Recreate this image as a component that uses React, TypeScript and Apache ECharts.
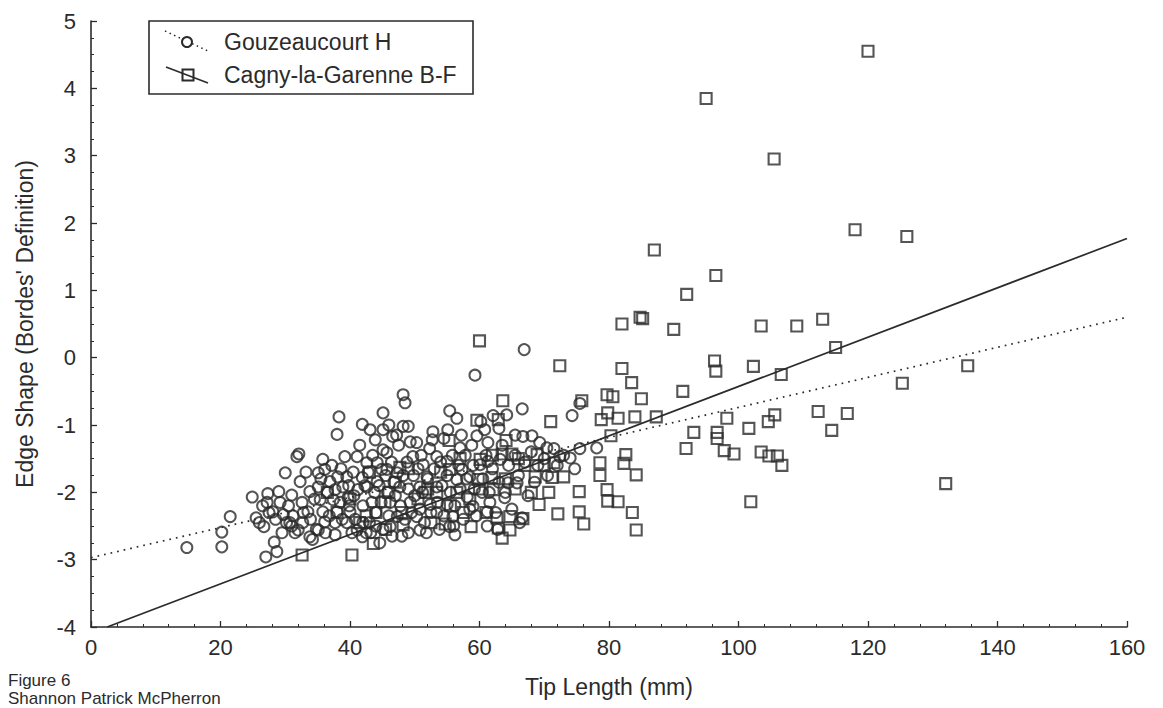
import React, { useEffect, useRef } from "react";
import * as echarts from "echarts";

const FONT = "'Liberation Sans', Arial, Helvetica, sans-serif";
const INK = "#2b2b2b";

const xTickLabels = ["0", "20", "40", "60", "80", "100", "120", "140", "160"];
const yTickLabels = ["-4", "-3", "-2", "-1", "0", "1", "2", "3", "4", "5"];

const seriesNames = ["Gouzeaucourt H", "Cagny-la-Garenne B-F"];

// Gouzeaucourt H (circles): [tip length mm, edge shape]
const gouzeaucourt: number[][] = [
  [14.8, -2.82], [20.2, -2.81], [20.2, -2.59], [21.5, -2.36], [24.9, -2.07], [25.5, -2.38],
  [26.7, -2.51], [27.0, -2.96], [28.3, -2.74], [28.7, -2.88], [27.3, -2.02], [29.0, -1.99],
  [30.0, -1.71], [27.2, -2.15], [28.1, -2.29], [29.2, -2.15], [29.7, -2.33], [30.7, -2.45],
  [31.0, -2.04], [31.8, -1.47], [32.1, -1.43], [32.3, -1.84], [32.6, -2.15], [32.0, -2.56],
  [32.7, -2.45], [33.5, -2.29], [33.8, -1.99], [33.8, -2.66], [35.1, -1.71], [35.8, -1.51],
  [36.1, -1.66], [35.1, -1.92], [35.4, -2.11], [35.8, -2.29], [36.1, -2.44], [35.1, -2.56],
  [38.0, -1.14], [38.3, -0.88], [36.9, -1.84], [37.7, -1.96], [38.1, -1.77], [37.4, -2.11],
  [38.0, -2.29], [37.7, -2.45], [37.7, -2.63], [39.2, -1.47], [39.5, -1.77], [39.7, -2.08],
  [40.0, -2.29], [39.5, -2.45], [40.3, -2.6], [41.1, -1.47], [41.9, -0.99], [43.1, -1.07],
  [43.9, -1.22], [45.1, -0.82], [45.1, -1.07], [42.6, -1.56], [41.9, -1.78], [41.2, -1.96],
  [42.6, -1.92], [43.4, -2.15], [44.2, -1.84], [44.2, -1.56], [45.1, -1.37], [44.9, -1.66],
  [45.1, -2.55], [41.1, -2.56], [41.9, -2.66], [42.0, -2.45], [38.9, -1.92], [38.5, -2.15],
  [66.9, 0.12], [59.3, -0.26], [48.2, -0.55], [48.5, -0.67], [55.4, -0.79], [56.5, -0.9],
  [66.6, -0.76], [62.1, -0.86], [64.2, -0.85], [60.8, -1.07], [59.6, -1.16], [61.3, -1.26],
  [74.3, -0.86], [75.5, -0.68], [66.7, -1.17], [68.1, -1.16], [69.3, -1.26], [70.4, -1.34],
  [75.5, -1.35], [78.1, -1.34], [74.0, -1.49], [74.7, -1.65], [72.4, -1.47], [65.8, -1.86],
  [64.4, -1.86], [66.6, -2.38], [52.8, -1.1], [55.1, -1.07], [52.7, -1.22], [48.2, -1.02],
  [49.0, -1.02], [46.6, -1.17], [50.3, -1.26], [45.7, -1.41], [49.7, -1.47], [51.3, -1.59],
  [53.4, -1.47], [57.0, -1.34], [55.0, -1.54], [57.3, -1.66], [56.5, -1.81], [60.1, -1.59],
  [61.3, -1.54], [58.5, -1.77], [63.2, -1.51], [58.1, -2.07], [60.4, -2.0], [61.6, -2.15],
  [63.9, -2.08], [61.2, -2.29], [59.0, -2.21], [47.7, -1.92], [50.8, -1.92], [53.4, -1.92],
  [55.0, -2.18], [52.4, -2.18], [49.3, -2.15], [46.2, -2.15], [47.3, -2.36], [50.3, -2.36],
  [53.4, -2.3], [55.9, -2.36], [46.2, -2.51], [49.0, -2.6], [50.8, -2.56], [44.6, -2.75],
  [55.4, -2.51], [56.2, -2.63], [45.7, -1.66], [47.3, -1.71], [51.9, -1.77],
  [30.5, -2.2], [31.2, -2.35], [31.5, -2.6], [32.8, -2.3], [33.2, -1.7], [33.9, -2.4],
  [34.5, -2.1], [34.8, -2.55], [35.5, -1.8], [36.5, -2.0], [36.8, -2.35], [37.2, -1.6],
  [38.6, -1.65], [38.8, -2.4], [39.8, -1.9], [39.9, -2.2], [40.5, -1.7], [40.6, -2.05],
  [40.8, -2.4], [36.2, -2.6], [34.2, -2.7], [31.0, -2.5], [30.2, -2.45], [29.5, -2.6],
  [28.5, -2.4], [27.5, -2.3], [26.5, -2.2], [26.0, -2.45],
  [41.5, -1.3], [42.0, -2.2], [42.3, -1.9], [42.8, -1.7], [43.0, -2.45], [43.5, -1.45],
  [43.8, -2.0], [44.0, -2.3], [44.5, -1.9], [44.8, -2.15], [45.5, -1.75], [45.8, -2.0],
  [46.0, -2.35], [46.4, -1.55], [46.8, -1.85], [47.0, -2.05], [47.5, -1.3], [47.8, -2.2],
  [48.2, -1.75], [48.5, -2.4], [48.8, -1.55], [49.0, -1.95], [49.5, -2.3], [49.8, -1.75],
  [50.0, -2.05], [50.5, -1.65], [50.8, -2.25], [44.0, -2.5], [46.5, -2.65], [48.0, -2.65],
  [47.2, -1.15], [46.0, -1.0], [49.3, -1.25], [43.2, -2.6], [42.5, -2.6],
  [51.0, -1.45], [51.2, -2.0], [51.5, -2.45], [52.0, -1.8], [52.3, -1.35], [52.5, -2.3],
  [53.0, -1.65], [53.5, -2.15], [54.0, -1.55], [54.2, -1.9], [54.5, -2.35], [55.0, -1.75],
  [55.5, -2.0], [55.8, -1.45], [56.2, -2.2], [56.8, -1.6], [57.0, -1.95], [57.5, -2.4],
  [57.8, -1.45], [58.0, -1.8], [58.5, -2.25], [59.0, -1.6], [59.2, -1.95], [59.5, -2.35],
  [53.8, -2.55], [51.8, -2.6], [56.0, -2.5], [58.8, -1.3], [54.5, -1.2], [57.2, -1.15],
  [60.5, -1.8], [61.0, -1.45], [61.5, -2.0], [62.0, -1.65], [62.5, -2.3], [63.0, -1.85],
  [63.5, -1.3], [64.0, -2.0], [64.5, -1.6], [65.0, -2.25], [65.5, -1.45], [66.0, -1.75],
  [67.0, -1.55], [67.5, -2.05], [68.0, -1.4], [68.5, -1.85], [69.0, -1.6], [70.0, -1.5],
  [70.5, -1.75], [71.5, -1.35], [72.0, -1.6], [73.0, -1.45], [61.2, -2.5], [62.8, -2.55],
  [60.2, -0.95], [63.0, -1.05], [65.5, -1.15], [66.2, -2.45],
];

// Cagny-la-Garenne B-F (squares)
const cagny: number[][] = [
  [120, 4.55], [95, 3.85], [105.5, 2.95], [118, 1.9], [126, 1.8], [96.5, 1.22], [92, 0.94],
  [90, 0.42], [103.5, 0.47], [109, 0.47], [113, 0.57], [87, 1.6], [82, 0.5], [84.8, 0.6],
  [85.2, 0.58], [115, 0.15], [96.3, -0.05], [96.5, -0.2], [102.3, -0.13], [106.6, -0.25],
  [91.4, -0.5], [135.4, -0.12], [125.3, -0.38], [98.2, -0.9], [93.1, -1.11], [96.7, -1.11],
  [96.7, -1.2], [91.9, -1.35], [97.8, -1.38], [99.3, -1.43], [101.6, -1.05], [104.6, -0.95],
  [105.6, -0.85], [103.5, -1.4], [104.7, -1.46], [106.0, -1.46], [106.7, -1.6], [112.3, -0.8],
  [116.8, -0.83], [114.4, -1.08], [101.9, -2.14], [132, -1.87],
  [60, 0.25], [72.4, -0.12], [82, -0.16], [83.5, -0.37], [85, -0.61], [79.7, -0.55],
  [80.6, -0.58], [75.8, -0.64], [63.6, -0.64], [84, -0.88], [87.3, -0.88], [79.8, -0.82],
  [78.8, -0.92], [81.4, -0.9], [71, -0.95], [59.6, -0.93], [62.9, -0.92], [80.3, -1.16],
  [55.3, -1.23], [64.1, -1.23], [68.9, -1.44], [63.5, -1.43], [65, -1.43], [71.5, -1.56],
  [78.6, -1.56], [82.6, -1.44], [82.3, -1.57], [84.2, -1.74], [78.6, -1.75], [73, -1.77],
  [71.2, -1.78], [68.6, -1.77], [75.4, -1.99], [70.7, -2.0], [79.7, -1.96], [79.8, -2.13],
  [81.4, -2.14], [75.4, -2.29], [72.1, -2.32], [69.2, -2.18], [76.1, -2.47], [83.6, -2.3],
  [84.2, -2.56], [66.7, -2.39], [64.7, -2.36], [64.7, -2.56], [63.5, -2.68], [62.9, -2.53],
  [62.7, -2.38], [58.7, -2.51], [54.7, -2.47], [57.5, -2.3], [53.4, -2.0], [51.6, -2.0],
  [47.7, -1.63], [48.2, -2.48], [55.4, -1.66], [59.8, -1.81], [62.1, -1.96], [60.1, -1.51],
  [61.9, -1.78],
  [32.6, -2.93], [40.3, -2.93], [43.6, -2.76], [42.5, -2.35], [45.4, -2.14],
  [40, -2.1], [41.5, -2.45], [43, -1.7], [44, -2.3], [46, -2.0], [47, -1.85], [48, -2.3],
  [49, -1.65], [50.5, -2.1], [52, -1.95], [52.5, -2.45], [54, -1.7], [55.5, -2.2], [56.5, -2.0],
  [57, -1.5], [58.5, -2.1], [60, -1.95], [61, -2.3], [45.5, -2.55], [38, -2.3], [36.5, -2.0],
  [62, -1.45], [64, -1.8], [65.5, -1.95], [67, -1.6], [68, -2.0], [66, -1.5], [70, -1.6],
];

// Regression lines (end points)
const gouzeaucourtFit: number[][] = [[0, -2.97], [160, 0.6]];
const cagnyFit: number[][] = [[2.5, -4], [160, 1.77]];

export default function App() {
  const ref = useRef<HTMLDivElement>(null);

  useEffect(() => {
    if (!ref.current) return;
    const chart = echarts.init(ref.current, null, { renderer: "svg" });

    const axisCommon = {
      type: "value" as const,
      axisLine: { show: true, onZero: false, lineStyle: { color: INK, width: 1.6 } },
      axisTick: { show: true, inside: true, length: 6, lineStyle: { color: INK, width: 1.3 } },
      minorTick: { show: true, length: 3, lineStyle: { color: INK, width: 1 } },
      splitLine: { show: false },
      minorSplitLine: { show: false },
      nameLocation: "middle" as const,
      nameTextStyle: { color: INK, fontSize: 23, fontFamily: FONT },
    };

    const option: any = {
      animation: false,
      backgroundColor: "#ffffff",
      grid: { left: 91, right: 36, top: 21, bottom: 81, containLabel: false },
      xAxis: {
        ...axisCommon,
        min: 0,
        max: 160,
        interval: 20,
        minorTick: { ...axisCommon.minorTick, splitNumber: 5 },
        axisLabel: {
          color: INK, fontSize: 22, fontFamily: FONT, margin: 9,
          formatter: (v: number) => xTickLabels[Math.round(v / 20)] ?? String(v),
        },
        name: "Tip Length (mm)",
        nameGap: 48,
      },
      yAxis: {
        ...axisCommon,
        min: -4,
        max: 5,
        interval: 1,
        minorTick: { ...axisCommon.minorTick, splitNumber: 4 },
        axisLabel: {
          color: INK, fontSize: 22, fontFamily: FONT, margin: 15,
          formatter: (v: number) => yTickLabels[Math.round(v + 4)] ?? String(v),
        },
        name: "Edge Shape (Bordes' Definition)",
        nameGap: 55,
      },
      series: [
        {
          name: seriesNames[0],
          type: "scatter",
          symbol: "circle",
          symbolSize: 11,
          data: gouzeaucourt,
          itemStyle: { color: "rgba(255,255,255,0)", borderColor: INK, borderWidth: 2 },
          z: 2,
        },
        {
          name: seriesNames[1],
          type: "scatter",
          symbol: "rect",
          symbolSize: 11,
          data: cagny,
          itemStyle: { color: "rgba(255,255,255,0)", borderColor: INK, borderWidth: 2.1 },
          z: 2,
        },
        {
          name: seriesNames[0] + " fit",
          type: "line",
          data: gouzeaucourtFit,
          showSymbol: false,
          symbol: "none",
          lineStyle: { color: INK, width: 1.7, type: [1.7, 5] },
          z: 3,
        },
        {
          name: seriesNames[1] + " fit",
          type: "line",
          data: cagnyFit,
          showSymbol: false,
          symbol: "none",
          lineStyle: { color: INK, width: 1.7 },
          z: 3,
        },
      ],
      graphic: [
        {
          type: "rect",
          shape: { x: 149, y: 21, width: 324, height: 73 },
          style: { fill: "#fff", stroke: INK, lineWidth: 1.6 },
          z: 10,
        },
        {
          type: "line",
          shape: { x1: 165, y1: 31, x2: 208, y2: 51 },
          style: { stroke: INK, lineWidth: 1.5, lineDash: [1.5, 3.5] },
          z: 11,
        },
        {
          type: "circle",
          shape: { cx: 187, cy: 42, r: 5 },
          style: { fill: "#fff", stroke: INK, lineWidth: 2 },
          z: 12,
        },
        {
          type: "line",
          shape: { x1: 166, y1: 67, x2: 208, y2: 83 },
          style: { stroke: INK, lineWidth: 1.7 },
          z: 11,
        },
        {
          type: "rect",
          shape: { x: 182.5, y: 69.5, width: 11, height: 11 },
          style: { fill: "rgba(255,255,255,0)", stroke: INK, lineWidth: 2 },
          z: 12,
        },
        {
          type: "text",
          x: 224, y: 42,
          style: { text: seriesNames[0], fill: INK, fontSize: 23, fontFamily: FONT, verticalAlign: "middle", align: "left" },
          z: 12,
        },
        {
          type: "text",
          x: 224, y: 75,
          style: { text: seriesNames[1], fill: INK, fontSize: 23, fontFamily: FONT, verticalAlign: "middle", align: "left" },
          z: 12,
        },
        {
          type: "text",
          x: 8, y: 680,
          style: { text: "Figure 6", fill: INK, fontSize: 17, fontFamily: FONT, verticalAlign: "middle", align: "left" },
        },
        {
          type: "text",
          x: 8, y: 698,
          style: { text: "Shannon Patrick McPherron", fill: INK, fontSize: 17, fontFamily: FONT, verticalAlign: "middle", align: "left" },
        },
      ],
    };

    chart.setOption(option);
    return () => chart.dispose();
  }, []);

  return (
    <div
      ref={ref}
      style={{ position: "absolute", left: 0, top: 0, width: 1163, height: 708, background: "#fff" }}
    />
  );
}
